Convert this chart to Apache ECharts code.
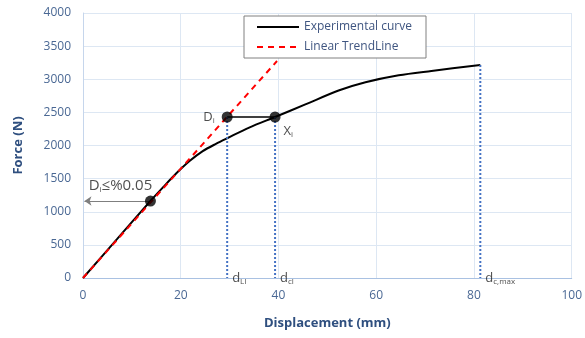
<!DOCTYPE html>
<html>
<head>
<meta charset="utf-8">
<script src="https://cdn.jsdelivr.net/npm/echarts@6/dist/echarts.min.js"></script>
<style>
  html, body { margin: 0; padding: 0; background: #fff; }
  #chart { width: 585px; height: 338px; }
</style>
</head>
<body>
<div id="chart"></div>
<script>
// experimental force-displacement curve (mm, N)
const curveX = [0, 7, 13.8, 16.4, 19.1, 21.8, 24.5, 27.2, 29.6, 34.0, 39.3, 45.5, 52.3, 57.8, 64.6, 71.3, 81.3]
const curveY = [0, 590, 1162, 1370, 1580, 1765, 1915, 2025, 2113, 2270, 2430, 2620, 2830, 2955, 3060, 3125, 3215]
// linear trendline end points
const trendX = [0, 39.7]
const trendY = [0, 3275]
// marked points: limit of linearity, D_i, X_i and end of curve
const limitPt = [13.8, 1162]
const diPt = [29.5, 2430]
const xiPt = [39.3, 2430]
const dmaxPt = [81.3, 3215]

const blue = '#4a6894'
const dotted = { color: '#4472c4', width: 2, type: 'dotted' }
const font = 'Open Sans'

let chart = echarts.init(document.getElementById('chart'))
chart.setOption({
  animation: false,
  grid: { left: 83, right: 11, top: 13, bottom: 60 },
  textStyle: { fontFamily: font },
  legend: {
    data: ['Experimental curve', 'Linear TrendLine'],
    orient: 'vertical',
    left: 244,
    top: 16,
    itemWidth: 42,
    itemHeight: 14,
    itemGap: 8,
    padding: [5, 14, 5, 12],
    backgroundColor: '#fff',
    borderColor: '#808080',
    borderWidth: 1,
    itemStyle: { opacity: 0 },
    textStyle: { color: '#3f5580', fontSize: 12, fontFamily: font }
  },
  xAxis: {
    type: 'value',
    min: 0,
    max: 100,
    interval: 20,
    name: 'Displacement (mm)',
    nameLocation: 'middle',
    nameGap: 39,
    nameTextStyle: { color: '#2f4f7f', fontWeight: 'bold', fontSize: 13, fontFamily: font },
    axisLine: { lineStyle: { color: '#a9c1e2' } },
    axisTick: { show: false },
    axisLabel: { color: blue, fontSize: 12, margin: 12, formatter: v => String(v) },
    splitLine: { lineStyle: { color: '#dde7f3' } }
  },
  yAxis: {
    type: 'value',
    min: 0,
    max: 4000,
    interval: 500,
    name: 'Force (N)',
    nameLocation: 'middle',
    nameGap: 58,
    nameTextStyle: { color: '#2f4f7f', fontWeight: 'bold', fontSize: 13, fontFamily: font },
    axisLine: { show: true, lineStyle: { color: '#c6d6ec' } },
    axisTick: { show: false },
    axisLabel: { color: blue, fontSize: 12, margin: 12, formatter: v => String(v) },
    splitLine: { lineStyle: { color: '#dde7f3' } }
  },
  series: [
    {
      name: 'Linear TrendLine',
      type: 'line',
      symbol: 'none',
      z: 3,
      data: trendX.map((x, i) => [x, trendY[i]]),
      lineStyle: { color: '#ff0000', width: 2, type: [6, 5] },
      itemStyle: { color: '#ff0000' }
    },
    {
      name: 'Experimental curve',
      type: 'line',
      symbol: 'none',
      smooth: 0.3,
      z: 2,
      data: curveX.map((x, i) => [x, curveY[i]]),
      lineStyle: { color: '#000', width: 2 },
      itemStyle: { color: '#000' }
    },
    {
      // D_i to X_i
      type: 'line',
      symbol: 'none',
      data: [diPt, xiPt],
      lineStyle: { color: '#000', width: 1.5 }
    },
    {
      type: 'line', symbol: 'none', data: [diPt, [diPt[0], 0]], lineStyle: dotted
    },
    {
      type: 'line', symbol: 'none', data: [xiPt, [xiPt[0], 0]], lineStyle: dotted
    },
    {
      type: 'line', symbol: 'none', data: [dmaxPt, [dmaxPt[0], 0]], lineStyle: dotted
    },
    {
      // arrow back to the force axis
      type: 'lines',
      coordinateSystem: 'cartesian2d',
      symbol: ['none', 'arrow'],
      symbolSize: [6, 7],
      lineStyle: { color: '#7f7f7f', width: 1, opacity: 1 },
      data: [{ coords: [limitPt, [0.3, limitPt[1]]] }]
    },
    {
      type: 'scatter',
      symbolSize: 11,
      z: 5,
      itemStyle: { color: '#000' },
      label: {
        show: true,
        color: '#222',
        fontSize: 13,
        rich: { s: { fontSize: 8, padding: [8, 0, 0, 0], color: '#222' } }
      },
      data: [
        { value: limitPt, label: { position: 'top', offset: [-30, 3], formatter: 'D{s|i}≤%0.05', fontSize: 15 } },
        { value: diPt, label: { position: 'left', offset: [-2, 0], formatter: 'D{s|i}' } },
        { value: xiPt, label: { position: 'right', offset: [-2, 14], formatter: 'X{s|i}' } }
      ]
    },
    {
      // labels at the foot of the dotted lines
      type: 'scatter',
      symbolSize: 0,
      z: 5,
      label: {
        show: true,
        position: 'right',
        offset: [0, 0],
        color: '#222',
        fontSize: 13,
        rich: { s: { fontSize: 8, padding: [8, 0, 0, 0], color: '#222' } }
      },
      data: [
        { value: [diPt[0], 0], label: { formatter: 'd{s|LI}' } },
        { value: [xiPt[0], 0], label: { formatter: 'd{s|cl}' } },
        { value: [dmaxPt[0], 0], label: { formatter: 'd{s|c,max}' } }
      ]
    }
  ]
}, true)
</script>
</body>
</html>
